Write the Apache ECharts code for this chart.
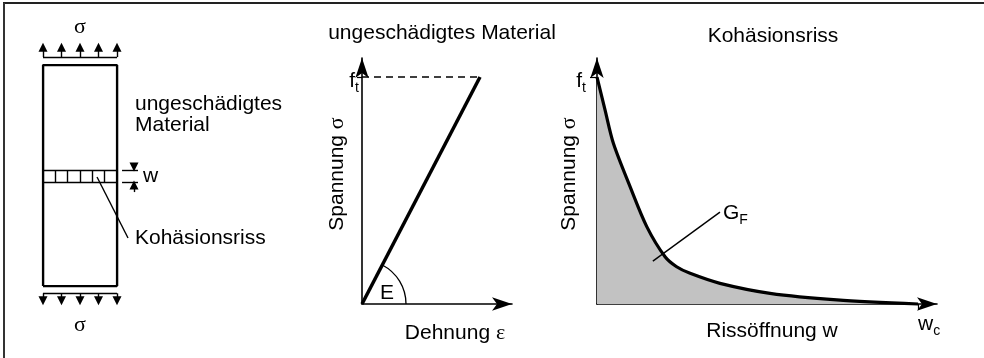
<!DOCTYPE html>
<html>
<head>
<meta charset="utf-8">
<script src="https://cdn.jsdelivr.net/npm/echarts@6/dist/echarts.min.js"></script>
<style>
  html, body { margin: 0; padding: 0; background: #fff; }
  #chart { width: 984px; height: 358px; }
</style>
</head>
<body>
<div id="chart"></div>
<script>
// left sketch: specimen in units of its width (x 0..1, y 0..3)
const specimenOutline = [[0, 0], [1, 0], [1, 3], [0, 3], [0, 0]];
const crackLevels = [1.411, 1.574];
const crackDividers = [0.167, 0.333, 0.5, 0.667, 0.833];
const loadArrowX = [0, 0.25, 0.5, 0.75, 1];
const loadTop = [3.107, 3.24];      // base line, arrow head
const loadBottom = [-0.099, -0.2];
const openingMarkX = [1.068, 1.284, 1.23];
const openingArrows = [[1.67, 1.615], [1.275, 1.37]];
const crackLeader = [[0.73, 1.479], [1.149, 0.651]];

// middle: linear elastic branch (eps / eps_t, sigma / f_t)
const elasticLine = [[0, 0], [1, 1]];
const strengthLine = [[0, 1], [1, 1]];

// right: softening curve (w / w_c, sigma / f_t)
const softening = [
  [0, 1], [0.025, 0.855], [0.051, 0.708], [0.103, 0.517], [0.155, 0.341],
  [0.212, 0.208], [0.248, 0.164], [0.29, 0.135], [0.383, 0.091],
  [0.539, 0.047], [0.747, 0.018], [1, 0]
];
const gfLeader = [[0.174, 0.189], [0.383, 0.405]];

const SANS = 'Liberation Sans';
const SERIF = 'Liberation Serif';
const INK = '#000';

const chart = echarts.init(document.getElementById('chart'));

const segs = [];
specimenOutline.forEach((p, i) => { if (i) segs.push({ coords: [specimenOutline[i - 1], p] }); });
crackLevels.forEach(y => segs.push({ coords: [[0, y], [1, y]] }));
crackDividers.forEach(x => segs.push({ coords: [[x, crackLevels[0]], [x, crackLevels[1]]] }));
segs.push({ coords: [[loadArrowX[0], loadTop[0]], [loadArrowX[4], loadTop[0]]] });
segs.push({ coords: [[loadArrowX[0], loadBottom[0]], [loadArrowX[4], loadBottom[0]]] });
crackLevels.forEach(y => segs.push({ coords: [[openingMarkX[0], y], [openingMarkX[1], y]] }));
segs.push({ coords: crackLeader });

const arrows = [];
loadArrowX.forEach(x => {
  arrows.push({ coords: [[x, loadTop[0]], [x, loadTop[1]]] });
  arrows.push({ coords: [[x, loadBottom[0]], [x, loadBottom[1]]] });
});
openingArrows.forEach(a => arrows.push({ coords: [[openingMarkX[2], a[0]], [openingMarkX[2], a[1]]] }));

const subRich = {
  f: { fontSize: 21, fontFamily: SANS, color: INK, lineHeight: 28 },
  t: { fontSize: 14, fontFamily: SANS, color: INK, verticalAlign: 'bottom', lineHeight: 14 }
};

const arrowAxisLine = {
  show: true, onZero: false,
  symbol: ['none', 'arrow'], symbolSize: [10, 20],
  lineStyle: { color: '#000', width: 1.6 }
};

function text(x, y, t, extra) {
  return Object.assign({
    type: 'text', x: x, y: y,
    style: Object.assign({ text: t, font: '21px "' + SANS + '"', fill: INK, align: 'center', verticalAlign: 'middle' },
      extra && extra.style)
  }, extra && extra.el);
}

const option = {
  animation: false,
  backgroundColor: '#fff',
  grid: [
    { left: 43, top: 65, width: 74, height: 221 },
    { left: 362, top: 58, width: 150, height: 246 },
    { left: 597, top: 58, width: 340, height: 246 }
  ],
  xAxis: [
    { gridIndex: 0, type: 'value', min: 0, max: 1, show: false },
    {
      gridIndex: 1, type: 'value', min: 0, max: 1.271,
      axisLine: arrowAxisLine, axisTick: { show: false }, axisLabel: { show: false }, splitLine: { show: false }
    },
    {
      gridIndex: 2, type: 'value', min: 0, max: 1.059,
      axisLine: arrowAxisLine,
      axisTick: { show: true, customValues: [1], length: 6, lineStyle: { color: '#000', width: 1.2 } },
      axisLabel: {
        customValues: [1], margin: 6, align: 'left',
        formatter: () => '{f|w}{t|c}', rich: subRich
      },
      splitLine: { show: false }
    }
  ],
  yAxis: [
    { gridIndex: 0, type: 'value', min: 0, max: 3, show: false },
    {
      gridIndex: 1, type: 'value', min: 0, max: 1.084,
      axisLine: arrowAxisLine,
      axisTick: { show: true, customValues: [1], length: 5, lineStyle: { color: '#000', width: 1.2 } },
      axisLabel: { customValues: [1], margin: 3, padding: [8, 0, 0, 0], formatter: () => '{f|f}{t|t}', rich: subRich },
      splitLine: { show: false }
    },
    {
      gridIndex: 2, type: 'value', min: 0, max: 1.084,
      axisLine: arrowAxisLine,
      axisTick: { show: true, customValues: [1], length: 7, lineStyle: { color: '#000', width: 1.2 } },
      axisLabel: { customValues: [1], margin: 11, padding: [8, 0, 0, 0], formatter: () => '{f|f}{t|t}', rich: subRich },
      splitLine: { show: false }
    }
  ],
  series: [
    {
      type: 'lines', coordinateSystem: 'cartesian2d', xAxisIndex: 0, yAxisIndex: 0, clip: false,
      lineStyle: { color: '#000', width: 1.4, opacity: 1 }, data: segs, silent: true
    },
    {
      type: 'lines', coordinateSystem: 'cartesian2d', xAxisIndex: 0, yAxisIndex: 0, clip: false,
      symbol: ['none', 'triangle'], symbolSize: [7, 9],
      lineStyle: { color: '#000', width: 1.4, opacity: 1 }, data: arrows, silent: true
    },
    {
      type: 'line', xAxisIndex: 0, yAxisIndex: 0, clip: false, symbol: 'none',
      lineStyle: { color: '#000', width: 2.2 }, data: specimenOutline
    },
    {
      type: 'line', xAxisIndex: 1, yAxisIndex: 1, symbol: 'none', clip: false,
      lineStyle: { color: '#000', width: 1.5, type: [7, 5] }, data: strengthLine
    },
    {
      type: 'line', xAxisIndex: 1, yAxisIndex: 1, symbol: 'none', clip: false,
      lineStyle: { color: '#000', width: 3.5 }, data: elasticLine
    },
    {
      type: 'line', xAxisIndex: 2, yAxisIndex: 2, symbol: 'none', smooth: 0.3, clip: false,
      lineStyle: { color: '#000', width: 3.2 },
      areaStyle: { color: '#c2c2c2', opacity: 1 },
      data: softening
    },
    {
      type: 'lines', coordinateSystem: 'cartesian2d', xAxisIndex: 2, yAxisIndex: 2, clip: false, z: 10,
      lineStyle: { color: '#000', width: 1.4, opacity: 1 }, data: [{ coords: gfLeader }], silent: true
    }
  ],
  graphic: [
    { type: 'line', shape: { x1: 3, y1: 3, x2: 984, y2: 3 }, style: { stroke: '#222', lineWidth: 2 } },
    { type: 'line', shape: { x1: 4, y1: 3, x2: 4, y2: 358 }, style: { stroke: '#333', lineWidth: 2 } },
    text(80, 27, 'σ', { style: { font: '22px "' + SERIF + '"' } }),
    text(80, 325, 'σ', { style: { font: '22px "' + SERIF + '"' } }),
    text(135, 104, 'ungeschädigtes', { style: { align: 'left' } }),
    text(135, 125, 'Material', { style: { align: 'left' } }),
    text(143, 176, 'w', { style: { align: 'left' } }),
    text(135, 238, 'Kohäsionsriss', { style: { align: 'left' } }),
    text(442, 33, 'ungeschädigtes Material'),
    text(337, 174, 'Spannung {s|σ}', {
      style: { rich: { s: { fontFamily: SERIF, fontSize: 22, fill: INK } } },
      el: { rotation: Math.PI / 2 }
    }),
    text(455, 333, 'Dehnung {s|ε}', {
      style: { rich: { s: { fontFamily: SERIF, fontSize: 22, fill: INK } } }
    }),
    text(387, 293, 'E'),
    text(773, 36, 'Kohäsionsriss'),
    text(569, 174, 'Spannung {s|σ}', {
      style: { rich: { s: { fontFamily: SERIF, fontSize: 22, fill: INK } } },
      el: { rotation: Math.PI / 2 }
    }),
    text(772, 331, 'Rissöffnung w'),
    text(723, 213, '{g|G}{s|F}', {
      style: {
        align: 'left',
        rich: {
          g: { fontFamily: SANS, fontSize: 21, fill: INK, lineHeight: 28 },
          s: { fontFamily: SANS, fontSize: 14, fill: INK, verticalAlign: 'bottom', lineHeight: 14 }
        }
      }
    })
  ]
};

chart.setOption(option);

// modulus arc between the strain axis and the elastic line
const o = chart.convertToPixel({ gridIndex: 1 }, elasticLine[0]);
const p = chart.convertToPixel({ gridIndex: 1 }, elasticLine[1]);
const ang = Math.atan2(p[1] - o[1], p[0] - o[0]);
chart.setOption({
  graphic: option.graphic.concat([{
    type: 'arc', id: 'eArc',
    shape: { cx: o[0], cy: o[1], r: 44, startAngle: ang, endAngle: 0, clockwise: true },
    style: { stroke: '#000', fill: 'none', lineWidth: 1.3 }
  }])
});
</script>
</body>
</html>
